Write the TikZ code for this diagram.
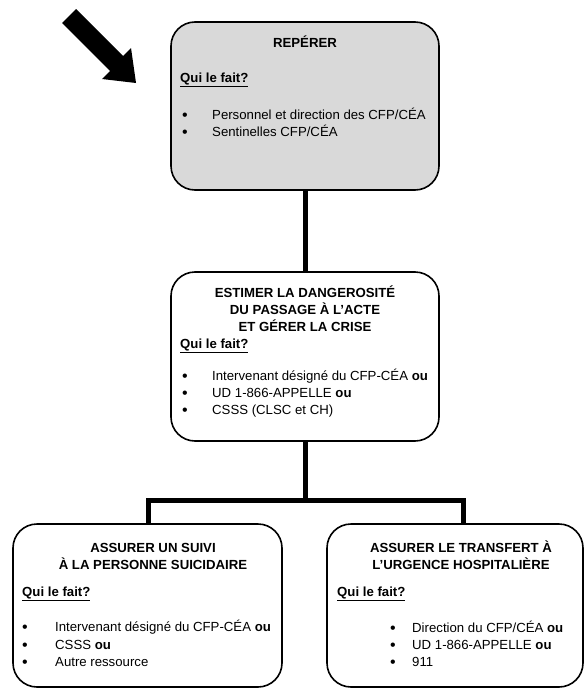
\documentclass[tikz,border=0pt]{standalone}
\usepackage{fontspec}
\setmainfont{Liberation Sans}
\definecolor{boxgray}{HTML}{D9D9D9}
\begin{document}
\begin{tikzpicture}[x=1pt,y=-1pt,
  box/.style={draw=black, line width=1.6pt, rounded corners=24pt, inner sep=0pt},
  conn/.style={line width=5pt, line join=miter},
  txt/.style={anchor=base, inner sep=0pt, font=\fontsize{13.2}{16}\selectfont},
  ltxt/.style={txt, anchor=base west},
  bul/.style={txt, font=\fontsize{16}{16}\selectfont}]
\useasboundingbox (0,0) rectangle (584,688);
% boxes
\node[box, fill=boxgray, minimum width=268pt, minimum height=168pt] (top) at (305,106) {};
\node[box, fill=white, minimum width=268pt, minimum height=169pt] (mid) at (305,356.5) {};
\node[box, fill=white, minimum width=269pt, minimum height=163pt] (bl) at (147.5,605.5) {};
\node[box, fill=white, minimum width=256pt, minimum height=163pt] (br) at (455,605.5) {};
% connectors
\coordinate (jc) at (305,500);
\coordinate (jl) at (148,500);
\coordinate (jr) at (463,500);
\draw[conn] (top.south) -- (mid.north);
\draw[conn] (mid.south) -- (jc);
\draw[conn] (bl.north -| jl) -- (jl) -- (jr) -- (br.north -| jr);
% arrow
\fill[black] (62,23) -- (76,9) -- (123,56) -- (131,48) -- (136,83) -- (102,79) -- (110,71) -- cycle;
% top box text
\node[txt] (t1) at (305,47) {\textbf{REPÉRER}};
\node[ltxt] (t2) at (180,82) {\underline{\textbf{Qui le fait?}}};
\node[bul] (t3b) at (185,120) {•};
\node[ltxt] (t3) at (212,119) {Personnel et direction des CFP/CÉA};
\node[bul] (t4b) at (185,137) {•};
\node[ltxt] (t4) at (212,136) {Sentinelles CFP/CÉA};
% middle box text
\node[txt] (m1) at (305,297) {\textbf{ESTIMER LA DANGEROSITÉ}};
\node[txt] (m2) at (305,314) {\textbf{DU PASSAGE À L’ACTE}};
\node[txt] (m3) at (305,331) {\textbf{ET GÉRER LA CRISE}};
\node[ltxt] (m4) at (180,348) {\underline{\textbf{Qui le fait?}}};
\node[bul] (m5b) at (185,381) {•};
\node[ltxt] (m5) at (212,380) {Intervenant désigné du CFP-CÉA \textbf{ou}};
\node[bul] (m6b) at (185,398) {•};
\node[ltxt] (m6) at (212,397) {UD 1-866-APPELLE \textbf{ou}};
\node[bul] (m7b) at (185,415) {•};
\node[ltxt] (m7) at (212,414) {CSSS (CLSC et CH)};
% bottom left text
\node[txt] (l1) at (153,552) {\textbf{ASSURER UN SUIVI}};
\node[txt] (l2) at (153,569) {\textbf{À LA PERSONNE SUICIDAIRE}};
\node[ltxt] (l3) at (22,596) {\underline{\textbf{Qui le fait?}}};
\node[bul] (l4b) at (25,632) {•};
\node[ltxt] (l4) at (55,631) {Intervenant désigné du CFP-CÉA \textbf{ou}};
\node[bul] (l5b) at (25,650) {•};
\node[ltxt] (l5) at (55,649) {CSSS \textbf{ou}};
\node[bul] (l6b) at (25,667) {•};
\node[ltxt] (l6) at (55,666) {Autre ressource};
% bottom right text
\node[txt] (r1) at (461,552) {\textbf{ASSURER LE TRANSFERT À}};
\node[txt] (r2) at (461,569) {\textbf{L’URGENCE HOSPITALIÈRE}};
\node[ltxt] (r3) at (337,596) {\underline{\textbf{Qui le fait?}}};
\node[bul] (r4b) at (393,633) {•};
\node[ltxt] (r4) at (412,632) {Direction du CFP/CÉA \textbf{ou}};
\node[bul] (r5b) at (393,650) {•};
\node[ltxt] (r5) at (412,649) {UD 1-866-APPELLE \textbf{ou}};
\node[bul] (r6b) at (393,667) {•};
\node[ltxt] (r6) at (412,666) {911};
\end{tikzpicture}
\end{document}
